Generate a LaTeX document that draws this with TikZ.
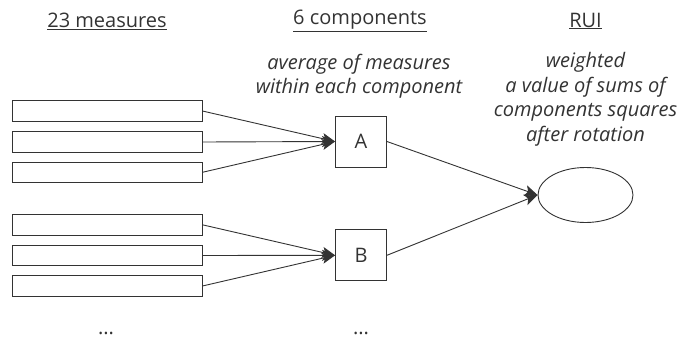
\documentclass[tikz,border=0pt]{standalone}
\usepackage{fontspec}
\setmainfont{Open Sans}
\usetikzlibrary{arrows.meta,shapes.geometric}
\definecolor{ink}{HTML}{333333}
\begin{document}
\begin{tikzpicture}[x=1pt,y=-1pt,
  every node/.style={text=ink},
  meas/.style={draw=ink,line width=0.9pt,minimum width=190pt,minimum height=20.5pt,inner sep=0pt},
  comp/.style={draw=ink,line width=0.9pt,minimum size=51pt,inner sep=0pt,font=\fontsize{20}{24}\selectfont},
  rui/.style={draw=ink,line width=0.9pt,ellipse,minimum width=95pt,minimum height=55pt,inner sep=0pt},
  head/.style={font=\fontsize{20}{24}\selectfont,inner sep=0pt},
  note/.style={font=\fontsize{20}{24.5}\selectfont\itshape,align=center,inner sep=0pt},
  conn/.style={draw=ink,line width=0.9pt,-{Stealth[length=13pt,width=11pt,inset=3pt]}}]
\useasboundingbox (0,0) rectangle (680,340);
\node[head] (h1) at (107,21) {\underline{23 measures}};
\node[head] (h2) at (360,21) {\underline{6 components}};
\node[head] (h3) at (585.5,21) {\underline{RUI}};
\node[note] (n2) at (359,76) {average of measures\\within each component};
\node[note] (n3) at (585.5,99.5) {weighted\\a value of sums of\\components squares\\after rotation};
\node[meas] (m1) at (107,111) {};
\node[meas] (m2) at (107,142) {};
\node[meas] (m3) at (107,172.3) {};
\node[meas] (m4) at (107,224.8) {};
\node[meas] (m5) at (107,255.5) {};
\node[meas] (m6) at (107,286) {};
\node[comp] (A) at (361,141.5) {A};
\node[comp] (B) at (361,255.3) {B};
\node[rui] (R) at (585.5,195) {};
\node[head,anchor=base] (d1) at (106,334) {...};
\node[head,anchor=base] (d2) at (361,334) {...};
\foreach \m in {m1,m2,m3} \draw[conn] (\m.east) -- (A.west);
\foreach \m in {m4,m5,m6} \draw[conn] (\m.east) -- (B.west);
\draw[conn] (A.east) -- (R.west);
\draw[conn] (B.east) -- (R.west);
\end{tikzpicture}
\end{document}
